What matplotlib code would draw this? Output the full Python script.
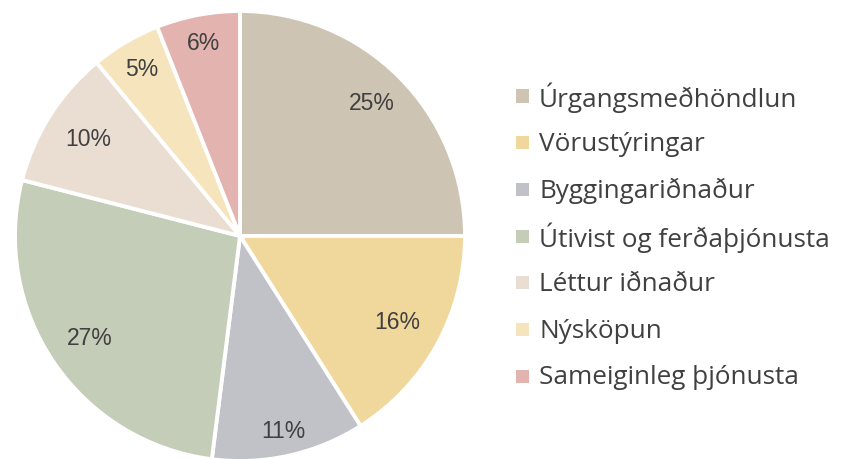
import matplotlib
matplotlib.use("Agg")
import matplotlib.pyplot as plt
from matplotlib.patches import Rectangle
import numpy as np

categories = ["Úrgangsmeðhöndlun", "Vörustýringar", "Byggingariðnaður",
              "Útivist og ferðaþjónusta", "Léttur iðnaður", "Nýsköpun",
              "Sameiginleg þjónusta"]
shares = [25, 16, 11, 27, 10, 5, 6]
colors = ["#CEC4B4", "#F0D79C", "#C1C2C8", "#C4CDB7", "#EADED3", "#F5E4BC", "#E3B3AF"]
label_dist = [0.83, 0.80, 0.89, 0.81, 0.80, 0.86, 0.87]

W, H = 841, 459
fig = plt.figure(figsize=(W / 100, H / 100), dpi=100)
fig.patch.set_facecolor("white")

cx, cy, r = 240, 236, 225
ax = fig.add_axes([(cx - r) / W, (H - cy - r) / H, 2 * r / W, 2 * r / H])

wedges, _ = ax.pie(shares, colors=colors, startangle=90, counterclock=False,
                   radius=1.0, wedgeprops=dict(edgecolor="white", linewidth=2.8))
ax.set_xlim(-1, 1)
ax.set_ylim(-1, 1)
ax.set_aspect("equal")
ax.axis("off")

text_color = "#404040"
for w, v, d in zip(wedges, shares, label_dist):
    ang = np.deg2rad((w.theta1 + w.theta2) / 2)
    ax.text(d * np.cos(ang), d * np.sin(ang), f"{v}%", ha="center", va="center",
            fontsize=16.5, color=text_color, family="Liberation Sans")

# legend: colour swatch plus label per row, evenly spaced
row0, step = 96, 46.7
for i, (name, c) in enumerate(zip(categories, colors)):
    yc = H - (row0 + i * step)
    fig.patches.append(Rectangle((516 / W, (yc - 6.5) / H), 13 / W, 13 / H,
                                 transform=fig.transFigure, facecolor=c,
                                 edgecolor="none"))
    fig.text(539 / W, (yc + 1.5) / H, name, ha="left", va="center_baseline",
             fontsize=18.8, color=text_color, family="Open Sans")

fig.savefig("out.png", dpi=100, facecolor="white")
